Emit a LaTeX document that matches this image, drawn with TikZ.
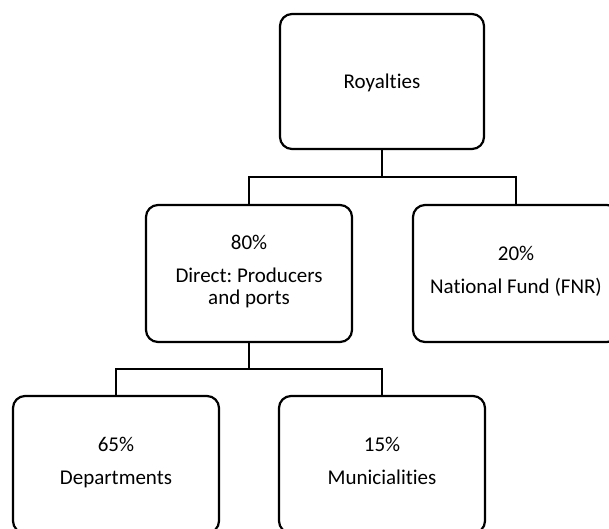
\documentclass[tikz,border=0pt]{standalone}
\usepackage{fontspec}
\setmainfont[Ligatures=NoCommon]{Carlito}
\frenchspacing
\begin{document}
\begin{tikzpicture}[x=1pt,y=-1pt,
  box/.style={draw, line width=2.2pt, rounded corners=12pt, minimum width=206pt, minimum height=137pt, align=center, inner sep=0pt, font=\fontsize{21}{22}\selectfont, execute at begin node={\rule{0pt}{21pt}}, execute at end node=\strut},
  conn/.style={line width=2.2pt}]
\useasboundingbox (0,0) rectangle (609,528);
\node[box, minimum height=135pt, minimum width=204pt] (roy) at (382,81.5) {Royalties};
\node[box] (mid) at (249,273.5) {80\%\\[11pt]Direct: Producers\\and ports};
\node[box] (fnr) at (516,273.5) {20\%\\[11pt]National Fund (FNR)};
\node[box] (dep) at (116,464.5) {65\%\\[11pt]Departments};
\node[box] (mun) at (382,464.5) {15\%\\[11pt]Municialities};
\coordinate (j1) at (382,177);
\coordinate (j2) at (249,369);
\draw[conn] (roy.south) -- (j1);
\draw[conn] (mid.north) |- (j1) -| (fnr.north);
\draw[conn] (mid.south) -- (j2);
\draw[conn] (dep.north) |- (j2) -| (mun.north);
\end{tikzpicture}
\end{document}
